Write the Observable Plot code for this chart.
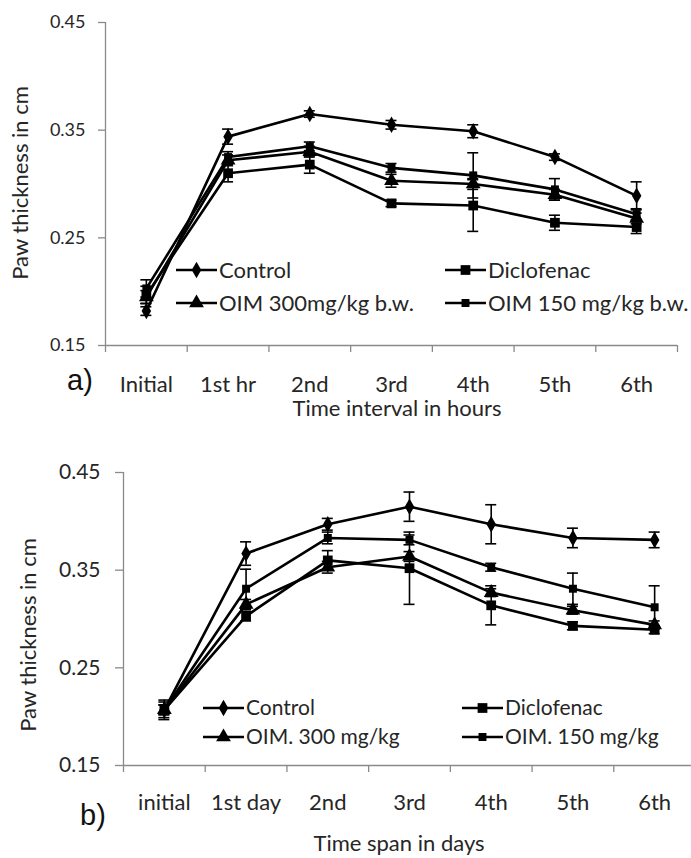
<!DOCTYPE html>
<html><head><meta charset="utf-8">
<script src="https://cdn.jsdelivr.net/npm/d3@7"></script>
<script src="https://cdn.jsdelivr.net/npm/@observablehq/plot@0.6"></script>
<style>
body{margin:0;background:#fff;}
#chart{width:691px;}
svg{display:block;}
</style>
</head><body><div id="chart"></div>
<script>
// ---- Panel a) data ----
const categoriesA = ["Initial","1st hr","2nd","3rd","4th","5th","6th"];
const controlA     = [0.182, 0.344, 0.365, 0.355, 0.349, 0.325, 0.289];
const controlAErr  = [0.004, 0.007, 0.003, 0.004, 0.006, 0.003, 0.013];
const diclofenacA    = [0.197, 0.310, 0.318, 0.282, 0.280, 0.264, 0.260];
const diclofenacAErr = [0.008, 0.008, 0.008, 0.003, 0.024, 0.007, 0.006];
const oim300A    = [0.195, 0.322, 0.330, 0.303, 0.300, 0.290, 0.268];
const oim300AErr = [0.006, 0.005, 0.005, 0.006, 0.005, 0.005, 0.005];
const oim150A    = [0.203, 0.325, 0.335, 0.315, 0.308, 0.295, 0.272];
const oim150AErr = [0.008, 0.005, 0.004, 0.004, 0.021, 0.010, 0.005];
const legendA = ["Control","Diclofenac","OIM 300mg/kg b.w.","OIM 150 mg/kg b.w."];
const yTicksA = [0.15, 0.25, 0.35, 0.45];
const xLabelA = "Time interval in hours";

// ---- Panel b) data ----
const categoriesB = ["initial","1st day","2nd","3rd","4th","5th","6th"];
const controlB     = [0.207, 0.367, 0.397, 0.415, 0.397, 0.383, 0.381];
const controlBErr  = [0.008, 0.012, 0.006, 0.015, 0.020, 0.010, 0.008];
const diclofenacB    = [0.207, 0.303, 0.360, 0.352, 0.314, 0.293, 0.289];
const diclofenacBErr = [0.010, 0.005, 0.010, 0.037, 0.020, 0.004, 0.004];
const oim300B    = [0.207, 0.315, 0.353, 0.364, 0.327, 0.309, 0.294];
const oim300BErr = [0.005, 0.005, 0.006, 0.005, 0.004, 0.004, 0.004];
const oim150B    = [0.207, 0.331, 0.383, 0.381, 0.353, 0.331, 0.312];
const oim150BErr = [0.005, 0.020, 0.006, 0.005, 0.004, 0.016, 0.022];
const legendB = ["Control","Diclofenac","OIM. 300 mg/kg","OIM. 150 mg/kg"];
const yTicksB = [0.15, 0.25, 0.35, 0.45];
const xLabelB = "Time span in days";

const yLabel = "Paw thickness in cm";
const FONT = "Lato, 'Open Sans', sans-serif";
const TEXT = "#262626";
const AXIS = "#8a8a8a";
const symbolNames = ["diamond","square","triangle","square"];
const symbolR = [5, 5.5, 5.5, 4.5];
const d3Symbols = [d3.symbolDiamond, d3.symbolSquare, d3.symbolTriangle, d3.symbolSquare];

function makePanel(cfg) {
  const {cats, values, errs, names, width, height, xRange, yRange, tag} = cfg;
  const rows = names.flatMap((n, s) => cats.map((c, i) => ({s, name: n, i, v: values[s][i], e: errs[s][i]})));
  const band = (xRange[1] - xRange[0]) / cats.length;
  const cap = 5.5 / band;
  const xc = d => d.i + 0.5;
  const yMin = cfg.yTicks[0];
  const marks = [
    Plot.ruleY([yMin], {stroke: AXIS, strokeWidth: 1.3}),
    Plot.ruleX([0], {stroke: AXIS, strokeWidth: 1.3}),
    Plot.ruleX(rows, {x: xc, y1: d => d.v - d.e, y2: d => d.v + d.e, stroke: "#000", strokeWidth: 1.6}),
    Plot.ruleY(rows, {y: d => d.v + d.e, x1: d => xc(d) - cap, x2: d => xc(d) + cap, stroke: "#000", strokeWidth: 1.6}),
    Plot.ruleY(rows, {y: d => d.v - d.e, x1: d => xc(d) - cap, x2: d => xc(d) + cap, stroke: "#000", strokeWidth: 1.6}),
    Plot.line(rows, {x: xc, y: "v", z: "s", stroke: "#000", strokeWidth: 2.6}),
    ...names.map((n, s) => Plot.dot(rows.filter(d => d.s === s), {x: xc, y: "v", symbol: () => symbolNames[s], fill: "#000", stroke: "none", r: symbolR[s]})),
    Plot.text(cats, {x: (d, i) => i + 0.5, y: () => yMin, dy: cfg.tickDy, text: d => d, fontSize: cfg.xfs, fill: TEXT})
  ];
  const svg = Plot.plot({
    width, height,
    marginLeft: xRange[0], marginRight: Math.max(0, width - xRange[1]),
    marginTop: yRange[1], marginBottom: height - yRange[0],
    style: {fontFamily: FONT, fontSize: cfg.yfs + "px", color: TEXT, background: "#fff", overflow: "hidden"},
    x: {domain: [0, cats.length], range: xRange, ticks: d3.range(cats.length + 1), tickFormat: () => "", tickSize: 7, label: null},
    y: {domain: [0.15, 0.45], range: yRange, ticks: cfg.yTicks, tickFormat: d3.format(".2f"), tickSize: cfg.yTickSize, tickPadding: cfg.yTickPad, label: null},
    symbol: {type: "identity"},
    marks
  });
  const s = d3.select(svg);
  s.selectAll("g[aria-label*='axis'] line, g[aria-label*='axis'] path").attr("stroke", AXIS).attr("stroke-width", 1.3);
  s.selectAll("g[aria-label*='axis'] text").attr("fill", TEXT);
  // axis titles and panel tag
  const ann = s.append("g").attr("font-family", FONT).attr("fill", TEXT);
  ann.append("text").attr("x", cfg.xLabelPos[0]).attr("y", cfg.xLabelPos[1]).attr("text-anchor", "middle")
    .attr("font-size", cfg.xfs).text(cfg.xLabel);
  ann.append("text").attr("transform", `translate(${cfg.yLabelPos[0]},${cfg.yLabelPos[1]}) rotate(-90)`)
    .attr("text-anchor", "middle").attr("dy", "0.35em").attr("font-size", cfg.xfs).text(yLabel);
  ann.append("text").attr("x", cfg.tagPos[0]).attr("y", cfg.tagPos[1]).attr("text-anchor", "middle").attr("dy", "0.35em")
    .attr("font-family", "'Liberation Sans', Arial, sans-serif").attr("font-size", 29).attr("fill", "#111").text(tag);
  // legend
  const lg = s.append("g").attr("font-family", FONT).attr("font-size", cfg.lfs).attr("text-anchor", "start");
  cfg.legendPos.forEach((p, k) => {
    lg.append("line").attr("x1", p[0]).attr("x2", p[0] + 41).attr("y1", p[1]).attr("y2", p[1]).attr("stroke", "#000").attr("stroke-width", 2.6);
    lg.append("path").attr("d", d3.symbol(d3Symbols[k], Math.PI * symbolR[k] * symbolR[k])())
      .attr("transform", `translate(${p[0] + 20.5},${p[1]})`).attr("fill", "#000");
    lg.append("text").attr("x", p[0] + 43).attr("y", p[1]).attr("dy", "0.35em").attr("fill", TEXT).text(names[k]);
  });
  return svg;
}

const chart = document.getElementById("chart");
chart.append(makePanel({
  cats: categoriesA, values: [controlA, diclofenacA, oim300A, oim150A], errs: [controlAErr, diclofenacAErr, oim300AErr, oim150AErr],
  names: legendA, width: 691, height: 430, xRange: [105, 677], yRange: [345, 22], tag: "a)",
  xfs: 22, yfs: 18, lfs: 22,
  yTicks: yTicksA, yTickSize: 7, yTickPad: 13,
  tickDy: 39, xLabel: xLabelA, xLabelPos: [397, 416], yLabelPos: [20, 183], tagPos: [80, 380],
  legendPos: [[176, 270], [445, 270], [176, 303], [445, 303]]
}));
chart.append(makePanel({
  cats: categoriesB, values: [controlB, diclofenacB, oim300B, oim150B], errs: [controlBErr, diclofenacBErr, oim300BErr, oim150BErr],
  names: legendB, width: 691, height: 428, xRange: [123, 695], yRange: [335, 42], tag: "b)",
  xfs: 22, yfs: 21, lfs: 21,
  yTicks: yTicksB, yTickSize: 8, yTickPad: 15,
  tickDy: 37, xLabel: xLabelB, xLabelPos: [399, 421], yLabelPos: [28, 205], tagPos: [93, 385],
  legendPos: [[203, 278], [462, 278], [203, 307], [462, 307]]
}));
</script></body></html>
